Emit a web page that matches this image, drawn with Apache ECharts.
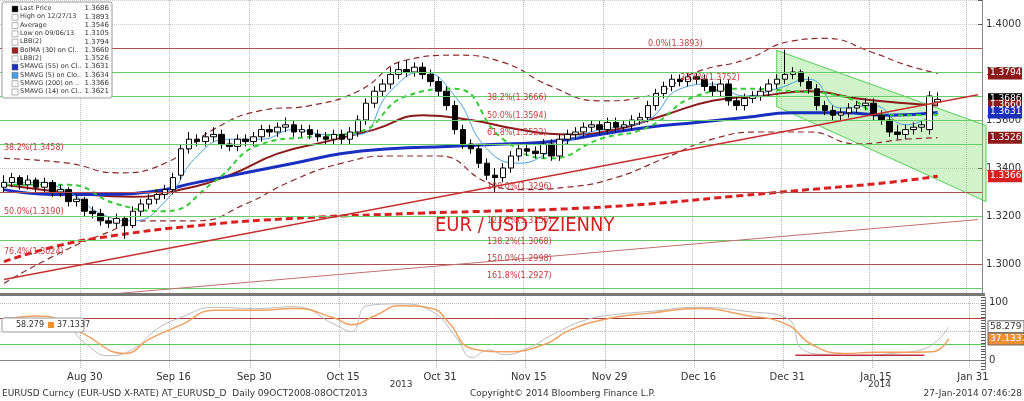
<!DOCTYPE html>
<html><head><meta charset="utf-8">
<script src="https://cdn.jsdelivr.net/npm/echarts@6/dist/echarts.min.js"></script>
<style>html,body{margin:0;padding:0;background:#fff}#c{width:1024px;height:401px}</style>
</head><body><div id="c"></div>
<script>
// ---- data ----
const opens=[1.332,1.334,1.336,1.333,1.335,1.332,1.334,1.330,1.331,1.326,
1.327,1.322,1.321,1.318,1.317,1.319,1.316,1.322,1.325,1.327,
1.329,1.331,1.337,1.348,1.352,1.351,1.353,1.354,1.350,1.349,
1.352,1.351,1.353,1.356,1.355,1.357,1.358,1.355,1.356,1.354,
1.353,1.352,1.354,1.352,1.355,1.360,1.367,1.372,1.375,1.379,
1.381,1.380,1.382,1.379,1.376,1.372,1.366,1.356,1.350,1.348,
1.342,1.337,1.336,1.340,1.345,1.348,1.347,1.346,1.350,1.345,
1.352,1.354,1.355,1.357,1.358,1.356,1.359,1.357,1.358,1.360,
1.361,1.366,1.371,1.374,1.377,1.376,1.378,1.377,1.374,1.372,
1.375,1.368,1.366,1.369,1.370,1.372,1.375,1.377,1.379,1.380,
1.376,1.373,1.366,1.364,1.362,1.363,1.365,1.366,1.367,1.362,
1.360,1.355,1.354,1.356,1.357,1.356,1.3675];
const closes=[1.334,1.336,1.333,1.335,1.332,1.334,1.330,1.331,1.326,1.327,
1.322,1.321,1.318,1.317,1.319,1.316,1.322,1.325,1.327,1.329,
1.331,1.336,1.348,1.352,1.351,1.353,1.354,1.350,1.349,1.352,
1.351,1.353,1.356,1.355,1.357,1.358,1.355,1.356,1.354,1.353,
1.352,1.354,1.352,1.355,1.360,1.367,1.372,1.375,1.379,1.381,
1.380,1.382,1.379,1.376,1.372,1.366,1.356,1.350,1.348,1.342,
1.337,1.336,1.340,1.345,1.348,1.347,1.346,1.350,1.345,1.352,
1.354,1.355,1.357,1.358,1.356,1.359,1.357,1.358,1.360,1.361,
1.366,1.371,1.374,1.377,1.376,1.378,1.377,1.374,1.372,1.375,
1.368,1.366,1.369,1.370,1.372,1.375,1.377,1.379,1.380,1.376,
1.373,1.366,1.364,1.362,1.363,1.365,1.366,1.367,1.362,1.360,
1.355,1.354,1.356,1.357,1.358,1.370,1.3686];
const highs=[1.337,1.338,1.337,1.337,1.336,1.336,1.335,1.333,1.332,1.329,
1.328,1.324,1.323,1.320,1.321,1.320,1.324,1.327,1.329,1.331,
1.333,1.338,1.350,1.355,1.354,1.355,1.357,1.356,1.352,1.354,
1.354,1.355,1.358,1.358,1.359,1.361,1.360,1.358,1.358,1.356,
1.355,1.356,1.356,1.357,1.362,1.369,1.374,1.377,1.382,1.384,
1.385,1.384,1.384,1.381,1.378,1.374,1.368,1.358,1.352,1.350,
1.344,1.340,1.342,1.347,1.350,1.350,1.349,1.352,1.352,1.354,
1.356,1.357,1.359,1.360,1.360,1.361,1.361,1.360,1.362,1.363,
1.368,1.373,1.376,1.379,1.379,1.380,1.380,1.379,1.376,1.377,
1.377,1.370,1.371,1.372,1.374,1.377,1.379,1.3893,1.382,1.381,
1.378,1.375,1.368,1.366,1.365,1.367,1.368,1.369,1.369,1.364,
1.362,1.358,1.358,1.359,1.360,1.372,1.3715];
const lows=[1.330,1.332,1.331,1.331,1.330,1.330,1.328,1.328,1.324,1.324,
1.320,1.319,1.316,1.315,1.315,1.3105,1.315,1.320,1.323,1.325,
1.327,1.329,1.335,1.346,1.349,1.349,1.351,1.348,1.347,1.347,
1.349,1.349,1.351,1.353,1.353,1.355,1.353,1.353,1.352,1.351,
1.350,1.350,1.350,1.350,1.353,1.358,1.365,1.370,1.373,1.377,
1.378,1.378,1.377,1.374,1.370,1.364,1.354,1.348,1.346,1.340,
1.335,1.3296,1.334,1.338,1.343,1.345,1.344,1.344,1.343,1.343,
1.350,1.352,1.353,1.355,1.354,1.354,1.355,1.355,1.356,1.358,
1.359,1.364,1.369,1.372,1.374,1.374,1.375,1.372,1.370,1.370,
1.366,1.364,1.364,1.367,1.368,1.370,1.373,1.375,1.377,1.374,
1.371,1.364,1.362,1.360,1.360,1.361,1.363,1.364,1.360,1.358,
1.353,1.352,1.352,1.354,1.355,1.354,1.366];
const sma55=[[0,1.331],[6,1.329],[12,1.329],[18,1.330],[24,1.334],[30,1.338],[36,1.342],[42,1.346],[48,1.348],[55,1.349],[62,1.350],[68,1.351],[74,1.354],[80,1.357],[86,1.359],[92,1.361],[98,1.363],[104,1.363],[110,1.362],[116,1.3631]];
const bolMA=[[0,1.333],[10,1.329],[16,1.328],[22,1.331],[28,1.337],[34,1.346],[40,1.351],[46,1.356],[52,1.362],[58,1.360],[64,1.356],[70,1.354],[76,1.356],[82,1.362],[88,1.368],[94,1.370],[100,1.372],[106,1.369],[112,1.367],[116,1.366]];
const bbUp=[[0,1.344],[8,1.342],[14,1.338],[20,1.342],[26,1.356],[32,1.364],[38,1.366],[44,1.372],[50,1.385],[56,1.387],[62,1.384],[68,1.374],[74,1.368],[80,1.370],[86,1.380],[92,1.385],[98,1.393],[102,1.394],[108,1.388],[112,1.383],[116,1.3794]];
const bbLo=[[0,1.292],[6,1.303],[12,1.312],[18,1.318],[24,1.318],[30,1.325],[36,1.335],[42,1.342],[48,1.345],[54,1.345],[60,1.334],[64,1.331],[70,1.332],[76,1.336],[82,1.344],[88,1.352],[94,1.355],[100,1.355],[106,1.350],[112,1.352],[116,1.3526]];
const sma200=[[0,1.301],[6,1.307],[12,1.311],[24,1.316],[36,1.319],[50,1.321],[60,1.322],[70,1.323],[80,1.325],[90,1.328],[100,1.331],[110,1.334],[116,1.3366]];
const sma14=[[0,1.333],[8,1.333],[14,1.325],[20,1.322],[26,1.334],[32,1.350],[38,1.353],[44,1.355],[50,1.370],[56,1.373],[62,1.352],[68,1.344],[74,1.352],[80,1.357],[86,1.370],[92,1.373],[98,1.372],[104,1.370],[110,1.362],[116,1.3621]];
const sma5=[[0,1.334],[4,1.334],[8,1.330],[12,1.321],[16,1.318],[20,1.326],[24,1.345],[28,1.352],[32,1.352],[36,1.356],[40,1.354],[44,1.354],[48,1.372],[52,1.380],[56,1.370],[60,1.348],[64,1.342],[68,1.347],[72,1.354],[76,1.357],[80,1.360],[84,1.373],[88,1.375],[92,1.370],[96,1.373],[100,1.377],[104,1.365],[108,1.366],[112,1.358],[116,1.3634]];
const stochD=[[0,70],[4,77],[7,70],[10,45],[15,12],[18,37],[22,62],[26,87],[31,87],[36,90],[41,73],[43,62],[46,78],[49,95],[53,90],[55,67],[58,20],[62,15],[67,28],[70,52],[75,73],[80,82],[86,90],[92,78],[97,62],[100,28],[104,12],[108,14],[111,14],[115,15],[117,37.1337]];
const stochK=[[0,75],[4,70],[7,68],[10,30],[13,8],[16,20],[19,55],[22,75],[26,92],[31,90],[36,93],[41,62],[43,50],[45,95],[49,98],[53,85],[56,40],[58,5],[60,18],[62,10],[65,22],[68,45],[72,70],[76,80],[80,85],[86,92],[92,85],[97,73],[99,18],[102,10],[106,8],[110,12],[114,20],[117,58.279]];
const fibLines=[[1.3893,'0.0%(1.3893)',80,'#b05050'],[1.3752,'23.6%(1.3752)',84,'#6c6'],[1.3666,'38.2%(1.3666)',60,'#6c6'],[1.3594,'50.0%(1.3594)',60,'#6c6'],[1.3522,'61.8%(1.3522)',60,'#6c6'],[1.3296,'100.0%(1.3296)',60,'#b05050'],[1.3155,'123.6%(1.3155)',60,'#6c6'],[1.3068,'138.2%(1.3068)',60,'#6c6'],[1.2998,'150.0%(1.2998)',60,'#6cc'],[1.2927,'161.8%(1.2927)',60,'#6c6'],
 [1.3458,'38.2%(1.3458)',0,'#6c6'],[1.3190,'50.0%(1.3190)',0,'#6c6'],[1.3024,'76.4%(1.3024)',0,'#b05050']];
const channelTop=[[96,1.389],[122,1.3577]];
const channelBot=[[96,1.3656],[122,1.326]];
const stochTrend=[[98,9],[114,9]];
const stochGrid=[100,50,0];
const xTicks=['Aug 30','Sep 16','Sep 30','Oct 15','Oct 31','Nov 15','Nov 29','Dec 16','Dec 31','Jan 15','Jan 31'];
const legendRows=[['Last Price','1.3686','#000'],['High on 12/27/13','1.3893','#fff'],['Average','1.3546','#fff'],['Low on 09/06/13','1.3105','#fff'],['LBB(2)','1.3794','#fff'],['BolMA (30) on Cl..','1.3660','#a02020'],['LBB(2)','1.3526','#fff'],['SMAVG (55) on Cl..','1.3631','#1a2fc0'],['SMAVG (5) on Clo..','1.3634','#4aa0e0'],['SMAVG (200) on ..','1.3366','#fff'],['SMAVG (14) on Cl..','1.3621','#fff']];
// categories: weekdays
const M=['Jan','Feb','Mar','Apr','May','Jun','Jul','Aug','Sep','Oct','Nov','Dec'];
const cats=[];{let d=new Date(2013,7,16);while(cats.length<122){const w=d.getDay();if(w>0&&w<6)cats.push(M[d.getMonth()]+' '+d.getDate());d.setDate(d.getDate()+1);}}
const ohlc=opens.map((o,i)=>[o,closes[i],lows[i],highs[i]]);

const chart=echarts.init(document.getElementById('c'));
const F='DejaVu Sans';
function line(data,color,w,type,z){return {type:'line',data,xAxisIndex:0,yAxisIndex:0,symbol:'none',smooth:true,lineStyle:{color,width:w,type:type||'solid'},z:z||3,silent:true};}
const fibMark={symbol:'none',silent:true,label:{show:false},data:fibLines.map(f=>({yAxis:f[0],lineStyle:{color:f[3],width:1,type:'solid'}}))};
const fibLabels=fibLines.map(f=>({coord:[f[2],f[0]],value:f[1]}));
const g=[];
g.push({id:'cover',type:'rect',shape:{x:0,y:294,width:1024,height:107},style:{fill:'#fff'},z:5});
g.push({id:'sep',type:'rect',shape:{x:0,y:293,width:985,height:3},style:{fill:'#777'},z:6});
g.push({id:'title',type:'text',left:435,top:216,style:{text:'EUR / USD DZIENNY',fill:'#d42020',font:'20px "Liberation Sans Narrow", "DejaVu Sans Condensed", sans-serif'},z:20});
g.push({id:'f1',type:'text',left:2,top:389,style:{text:'EURUSD Curncy (EUR-USD X-RATE) AT_EURUSD_D  Daily 09OCT2008-08OCT2013',fill:'#333',font:'9px "DejaVu Sans"'},z:20});
g.push({id:'f2',type:'text',left:470,top:389,style:{text:'Copyright© 2014 Bloomberg Finance L.P.',fill:'#333',font:'9px "DejaVu Sans"'},z:20});
g.push({id:'f3',type:'text',right:2,top:389,style:{text:'27-Jan-2014 07:46:28',fill:'#333',font:'9px "DejaVu Sans"'},z:20});
g.push({id:'legbox',type:'rect',shape:{x:2,y:2,width:110,height:96,r:2},style:{fill:'rgba(255,255,255,0.92)',stroke:'#999'},z:30});
legendRows.forEach((r,i)=>{const y=5+i*8.3;
 g.push({id:'lm'+i,type:'rect',shape:{x:12,y:y+1,width:6,height:6},style:{fill:r[2],stroke:'#666',lineWidth:0.5},z:31});
 g.push({id:'ll'+i,type:'text',x:20,y:y,style:{text:r[0],fill:'#333',font:'6.5px "DejaVu Sans"'},z:31});
 g.push({id:'lv'+i,type:'text',x:109,y:y,style:{text:r[1],fill:'#333',font:'7px "DejaVu Sans"',align:'right'},z:31});});
g.push({id:'sbox',type:'rect',shape:{x:2,y:318,width:82,height:14,r:2},style:{fill:'#fff',stroke:'#999'},z:30});
g.push({id:'s1',type:'text',x:16,y:321,style:{text:'58.279',fill:'#333',font:'8px "DejaVu Sans"'},z:31});
g.push({id:'s2',type:'rect',shape:{x:48,y:322,width:6,height:6},style:{fill:'#f09030'},z:31});
g.push({id:'s3',type:'text',x:57,y:321,style:{text:'37.1337',fill:'#333',font:'8px "DejaVu Sans"'},z:31});

chart.setOption({
 animation:false,backgroundColor:'#fff',
 grid:[{left:0,right:39,top:-17,height:329},{left:0,right:39,top:297,height:72}],
 xAxis:[{type:'category',data:cats,gridIndex:0,axisLabel:{show:false},axisTick:{show:false},axisLine:{show:false},
   splitLine:{show:true,interval:(i,v)=>xTicks.includes(v),lineStyle:{color:'#bbb',type:'dotted'}}},
  {type:'category',data:cats,gridIndex:1,z:10,axisLine:{lineStyle:{color:'#888'}},axisTick:{interval:(i,v)=>xTicks.includes(v),lineStyle:{color:'#888'}},
   axisLabel:{interval:(i,v)=>xTicks.includes(v),color:'#333',fontFamily:F,fontSize:10,margin:3},
   splitLine:{show:true,interval:(i,v)=>xTicks.includes(v),lineStyle:{color:'#bbb',type:'dotted'}}}],
 yAxis:[{type:'value',gridIndex:0,position:'right',min:1.28,max:1.41,interval:0.01,
   axisLine:{show:true,lineStyle:{color:'#888'}},axisTick:{show:true,inside:true,length:4,lineStyle:{color:'#555'}},
   axisLabel:{color:'#333',fontFamily:F,fontSize:10,margin:4,formatter:v=>{const r=Math.round(v*100);return (r%2===0&&r<=140&&r>=130)?v.toFixed(4):'';}},
   splitLine:{show:true,interval:0,lineStyle:{color:'#ccc',type:'dotted'}}},
  {type:'value',gridIndex:1,position:'right',min:-15,max:110,interval:5,z:10,
   axisLine:{show:true,lineStyle:{color:'#888'}},axisTick:{show:true,inside:true,length:4,lineStyle:{color:'#555'},interval:(i,v)=>v%25===0},
   axisLabel:{color:'#333',fontFamily:F,fontSize:10,margin:4,formatter:v=>(v===0||v===100)?String(v):''},
   splitLine:{show:false}}],
 series:[
  {type:'custom',xAxisIndex:0,yAxisIndex:0,z:1,silent:true,data:[0],renderItem:(p,api)=>{
    const pts=[api.coord(channelTop[0]),api.coord(channelTop[1]),api.coord(channelBot[1]),api.coord(channelBot[0])];
    return {type:'polygon',shape:{points:pts},style:{fill:'rgba(120,220,100,0.35)',stroke:'#5c5',lineWidth:1}};}},
  {type:'candlestick',data:ohlc,xAxisIndex:0,yAxisIndex:0,barWidth:6,z:4,
   itemStyle:{color:'#fff',color0:'#000',borderColor:'#000',borderColor0:'#000',borderWidth:1},
   markLine:fibMark,
   markPoint:{symbol:'circle',symbolSize:0,silent:true,data:fibLabels,label:{show:true,position:'right',distance:0,offset:[0,-6],formatter:p=>p.value,color:'#c04040',fontSize:8,fontFamily:F}}},
  line(bbUp,'#8b2a2a',1.2,[6,4]),line(bbLo,'#8b2a2a',1.2,[6,4]),
  line(bolMA,'#8b1a1a',2),line(sma55,'#1a2fc0',3),line(sma5,'#4aa0e0',1),
  line(sma14,'#3c3',2,[5,4]),line(sma200,'#d82020',3,[7,4]),
  {type:'line',data:[],xAxisIndex:0,yAxisIndex:0,markLine:{symbol:'none',silent:true,label:{show:false},data:[
    [{coord:[0,1.2935]},{coord:[121,1.3705]}],[{coord:[13,1.2874]},{coord:[121,1.3185]}],
    [{yAxis:1.3330},{xAxis:121,yAxis:1.3330}],[{yAxis:1.3000},{xAxis:121,yAxis:1.3000}],[{yAxis:1.3631},{xAxis:121,yAxis:1.3631}]
   ].map((d,i)=>{const c=['#c83030','#c07070','#3cc','#5cc','#7cc'][i];const w=[1.5,1,1.5,1,1][i];
     return [Object.assign({},d[0],{lineStyle:{color:c,width:w,type:i>=3?'dotted':'solid'}}),d[1]];})}},
  {type:'line',data:[],xAxisIndex:1,yAxisIndex:1,z:9,markLine:{symbol:'none',silent:true,label:{show:false},
   data:stochGrid.map(v=>({yAxis:v,lineStyle:{color:'#bbb',type:'dotted',width:1}}))}},
  {type:'line',data:stochK,xAxisIndex:1,yAxisIndex:1,symbol:'none',smooth:true,z:10,lineStyle:{color:'#bbb',width:1},
   markLine:{symbol:'none',silent:true,label:{show:false},data:[{yAxis:73,lineStyle:{color:'#b04040',type:'solid',width:1}},{yAxis:28,lineStyle:{color:'#5c5',type:'solid',width:1}}]}},
  {type:'line',data:stochTrend,xAxisIndex:1,yAxisIndex:1,symbol:'none',z:11,lineStyle:{color:'#c03040',width:1.5}},
  {type:'line',data:stochD,xAxisIndex:1,yAxisIndex:1,symbol:'none',smooth:true,z:11,lineStyle:{color:'#f0a060',width:1.5}}
 ],
 graphic:{elements:g}
});
// right-axis value tags and year labels, positioned through the chart scales
const tags=[[1.3794,'#8b1a1a'],[1.3686,'#000'],[1.3660,'#8b1a1a'],[1.3631,'#1a2fc0'],[1.3526,'#8b1a1a'],[1.3366,'#d82020']];
const extra=[];
tags.forEach((t,i)=>{const y=chart.convertToPixel({yAxisIndex:0},t[0]);
 extra.push({id:'tr'+i,type:'rect',shape:{x:988,y:y-6,width:34,height:12},style:{fill:t[1]},z:40});
 extra.push({id:'tt'+i,type:'text',x:990,y:y-5,style:{text:t[0].toFixed(4),fill:'#fff',font:'9px "DejaVu Sans"'},z:41});});
[[58.279,'#fff','#333'],[37.1337,'#f09030','#fff']].forEach((t,i)=>{const y=chart.convertToPixel({yAxisIndex:1},t[0]);
 extra.push({id:'sr'+i,type:'rect',shape:{x:988,y:y-6,width:36,height:12},style:{fill:t[1],stroke:'#666'},z:40});
 extra.push({id:'st'+i,type:'text',x:990,y:y-5,style:{text:String(t[0]),fill:t[2],font:'9px "DejaVu Sans"'},z:41});});
[['Oct 24','2013'],['Jan 15','2014']].forEach((t,i)=>{const x=chart.convertToPixel({xAxisIndex:1},t[0]);
 extra.push({id:'yr'+i,type:'text',x:x-10+(i?2:0),y:380,style:{text:t[1],fill:'#333',font:'9px "DejaVu Sans"'},z:40});});
chart.setOption({graphic:{elements:extra}});
</script></body></html>
